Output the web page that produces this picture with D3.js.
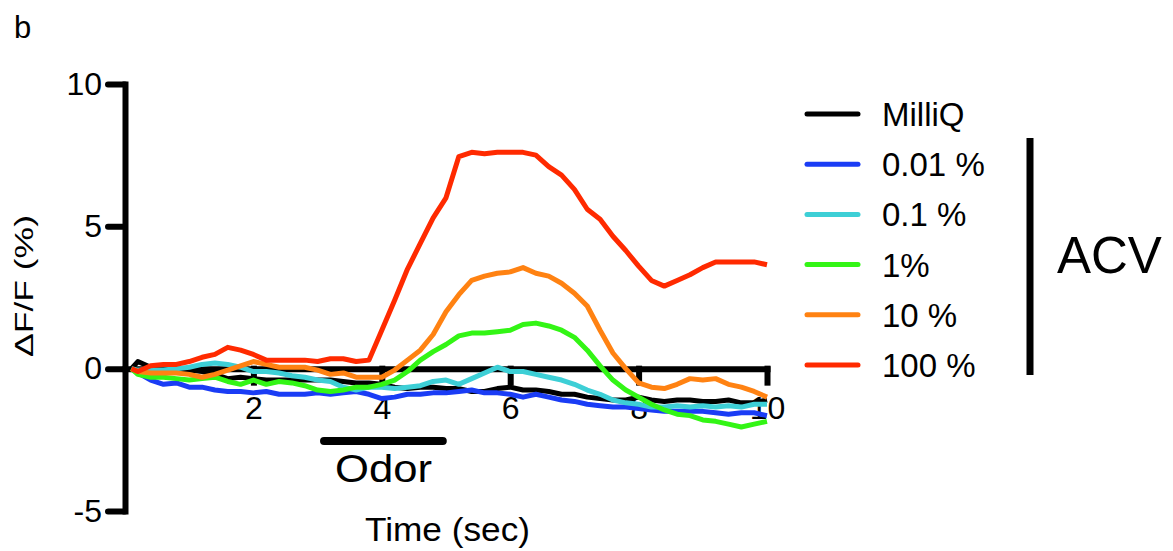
<!DOCTYPE html>
<html>
<head>
<meta charset="utf-8">
<script src="https://cdn.jsdelivr.net/npm/d3@7"></script>
<style>
  body { margin: 0; background: #fff; }
  svg { display: block; font-family: 'Liberation Sans', Arial, sans-serif; }
</style>
</head>
<body>
<div id="container"></div>
<script>
// time points (sec)
const times = [0.1, 0.2, 0.4, 0.6, 0.8, 1.0, 1.2, 1.4, 1.6, 1.8, 2.0, 2.2, 2.4, 2.6, 2.8, 3.0, 3.2, 3.4, 3.6, 3.8,
  4.0, 4.2, 4.4, 4.6, 4.8, 5.0, 5.2, 5.4, 5.6, 5.8, 6.0, 6.2, 6.4, 6.6, 6.8, 7.0, 7.2, 7.4, 7.6, 7.8,
  8.0, 8.2, 8.4, 8.6, 8.8, 9.0, 9.2, 9.4, 9.6, 9.8, 10.0];

const milliQ = [0, 0.25, 0.05, 0, -0.05, -0.05, -0.1, -0.2, -0.35, -0.3, -0.35, -0.4, -0.4, -0.4, -0.4, -0.4, -0.4, -0.45, -0.5, -0.5,
  -0.55, -0.65, -0.7, -0.65, -0.65, -0.7, -0.7, -0.8, -0.8, -0.7, -0.65, -0.75, -0.75, -0.8, -0.9, -0.9, -1.0, -1.05, -1.1, -1.1,
  -1.0, -1.1, -1.15, -1.1, -1.1, -1.15, -1.15, -1.1, -1.2, -1.2, -1.1];
const acv001 = [0, -0.15, -0.4, -0.55, -0.5, -0.65, -0.65, -0.75, -0.8, -0.8, -0.85, -0.8, -0.9, -0.9, -0.9, -0.85, -0.9, -0.85, -0.8, -0.9,
  -1.05, -1.0, -0.9, -0.9, -0.85, -0.85, -0.8, -0.75, -0.85, -0.85, -0.9, -1.0, -0.9, -1.0, -1.1, -1.15, -1.25, -1.3, -1.35, -1.35,
  -1.4, -1.45, -1.5, -1.5, -1.5, -1.5, -1.55, -1.6, -1.55, -1.55, -1.65];
const acv01 = [0, -0.05, -0.05, -0.05, 0, 0.05, 0.15, 0.2, 0.15, 0.05, -0.1, -0.1, -0.15, -0.25, -0.3, -0.4, -0.45, -0.65, -0.75, -0.65,
  -0.65, -0.7, -0.65, -0.6, -0.45, -0.4, -0.55, -0.35, -0.15, 0.05, -0.1, -0.1, -0.2, -0.3, -0.4, -0.55, -0.75, -0.9, -1.1, -1.2,
  -1.25, -1.35, -1.35, -1.3, -1.35, -1.3, -1.35, -1.3, -1.35, -1.25, -1.25];
const acv1 = [0, -0.2, -0.3, -0.3, -0.35, -0.4, -0.35, -0.3, -0.45, -0.55, -0.4, -0.55, -0.45, -0.5, -0.6, -0.75, -0.8, -0.75, -0.65, -0.65,
  -0.55, -0.4, -0.1, 0.3, 0.6, 0.85, 1.15, 1.25, 1.25, 1.3, 1.35, 1.55, 1.6, 1.5, 1.35, 1.1, 0.65, 0.1, -0.4, -0.75,
  -1.0, -1.25, -1.45, -1.6, -1.65, -1.8, -1.85, -1.95, -2.05, -1.95, -1.85];
const acv10 = [0, -0.1, -0.15, -0.15, -0.15, -0.2, -0.3, -0.2, -0.05, 0.1, 0.25, 0.15, 0.05, 0.05, 0.05, -0.05, -0.2, -0.15, -0.3, -0.3,
  -0.3, -0.05, 0.3, 0.65, 1.2, 2.0, 2.6, 3.1, 3.25, 3.35, 3.4, 3.55, 3.35, 3.25, 3.0, 2.65, 2.2, 1.35, 0.55, 0,
  -0.5, -0.65, -0.7, -0.55, -0.35, -0.4, -0.35, -0.55, -0.65, -0.8, -1.0];
const acv100 = [0, -0.1, 0.1, 0.15, 0.15, 0.25, 0.4, 0.5, 0.75, 0.65, 0.5, 0.3, 0.3, 0.3, 0.3, 0.25, 0.35, 0.35, 0.25, 0.3,
  1.35, 2.4, 3.5, 4.4, 5.3, 6.0, 7.45, 7.6, 7.55, 7.6, 7.6, 7.6, 7.5, 7.1, 6.8, 6.3, 5.6, 5.25, 4.65, 4.15,
  3.6, 3.1, 2.9, 3.1, 3.3, 3.55, 3.75, 3.75, 3.75, 3.75, 3.65];

const seriesNames = ['MilliQ', '0.01 %', '0.1 %', '1%', '10 %', '100 %'];
const seriesValues = [milliQ, acv001, acv01, acv1, acv10, acv100];
const seriesColors = ['#000000', '#1a3cf5', '#3dcfd6', '#33f515', '#ff8212', '#ff2a00'];

const xTicks = [2, 4, 6, 8, 10];
const yTicks = [-5, 0, 5, 10];
const odorWindow = [3.1, 4.95];

const width = 1173, height = 551;
const font = "'Liberation Sans', Arial, sans-serif";

const svg = d3.select('#container').append('svg')
  .attr('width', width)
  .attr('height', height);

const x = d3.scaleLinear().domain([0, 10]).range([125, 767]);
const y = d3.scaleLinear().domain([-5, 10]).range([511, 84]);

// y axis
const yAxis = svg.append('g')
  .attr('transform', `translate(${x(0)},0)`)
  .call(d3.axisLeft(y).tickValues(yTicks).tickFormat((d) => String(d))
    .tickSize(17).tickSizeOuter(0).tickPadding(6));
yAxis.select('.domain').attr('stroke', '#000').attr('stroke-width', 6).attr('stroke-linecap', 'square');
yAxis.selectAll('.tick line').attr('stroke', '#000').attr('stroke-width', 6).attr('stroke-linecap', 'round');
yAxis.selectAll('.tick text').attr('font-size', 32).attr('font-family', font).attr('fill', '#000');

// x axis at y = 0
const xAxis = svg.append('g')
  .attr('transform', `translate(0,${y(0)})`)
  .call(d3.axisBottom(x).tickValues(xTicks).tickFormat((d) => String(d))
    .tickSize(14).tickSizeOuter(0).tickPadding(14));
xAxis.select('.domain').attr('stroke', '#000').attr('stroke-width', 6).attr('stroke-linecap', 'square');
xAxis.selectAll('.tick line').attr('stroke', '#000').attr('stroke-width', 6).attr('stroke-linecap', 'square');
xAxis.selectAll('.tick text').attr('font-size', 32).attr('font-family', font).attr('fill', '#000');

// traces
const line = d3.line()
  .x((d, i) => x(times[i]))
  .y((d) => y(d));

svg.append('g')
  .selectAll('path')
  .data(seriesValues)
  .enter()
  .append('path')
  .attr('d', (d) => line(d))
  .attr('fill', 'none')
  .attr('stroke', (d, i) => seriesColors[i])
  .attr('stroke-width', 5)
  .attr('stroke-linejoin', 'round');

// odor bar
svg.append('line')
  .attr('x1', x(odorWindow[0]))
  .attr('x2', x(odorWindow[1]))
  .attr('y1', 441)
  .attr('y2', 441)
  .attr('stroke', '#000')
  .attr('stroke-width', 8)
  .attr('stroke-linecap', 'round');

svg.append('text')
  .attr('x', 335)
  .attr('y', 482)
  .attr('font-size', 38)
  .attr('textLength', 97)
  .attr('lengthAdjust', 'spacingAndGlyphs')
  .text('Odor');

// axis labels
svg.append('text')
  .attr('x', 365)
  .attr('y', 541)
  .attr('font-size', 33)
  .attr('textLength', 165)
  .attr('lengthAdjust', 'spacingAndGlyphs')
  .text('Time (sec)');

svg.append('text')
  .attr('transform', 'translate(33,357) rotate(-90)')
  .attr('font-size', 25)
  .attr('textLength', 142)
  .attr('lengthAdjust', 'spacingAndGlyphs')
  .text('\u0394F/F (%)');

svg.append('text')
  .attr('x', 14)
  .attr('y', 38)
  .attr('font-size', 31)
  .text('b');

// legend
const legend = svg.append('g');
seriesNames.forEach((name, i) => {
  const ly = 114 + i * 50.2;
  legend.append('line')
    .attr('x1', 807).attr('x2', 858)
    .attr('y1', ly).attr('y2', ly)
    .attr('stroke', seriesColors[i])
    .attr('stroke-width', 5)
    .attr('stroke-linecap', 'round');
  legend.append('text')
    .attr('x', 882)
    .attr('y', ly + 12)
    .attr('font-size', 33)
    .text(name);
});

legend.append('line')
  .attr('x1', 1030).attr('x2', 1030)
  .attr('y1', 138).attr('y2', 375)
  .attr('stroke', '#000')
  .attr('stroke-width', 7);

legend.append('text')
  .attr('x', 1057)
  .attr('y', 273)
  .attr('font-size', 51)
  .text('ACV');

svg.selectAll('text').attr('font-family', font).attr('fill', '#000');
</script>
</body>
</html>
